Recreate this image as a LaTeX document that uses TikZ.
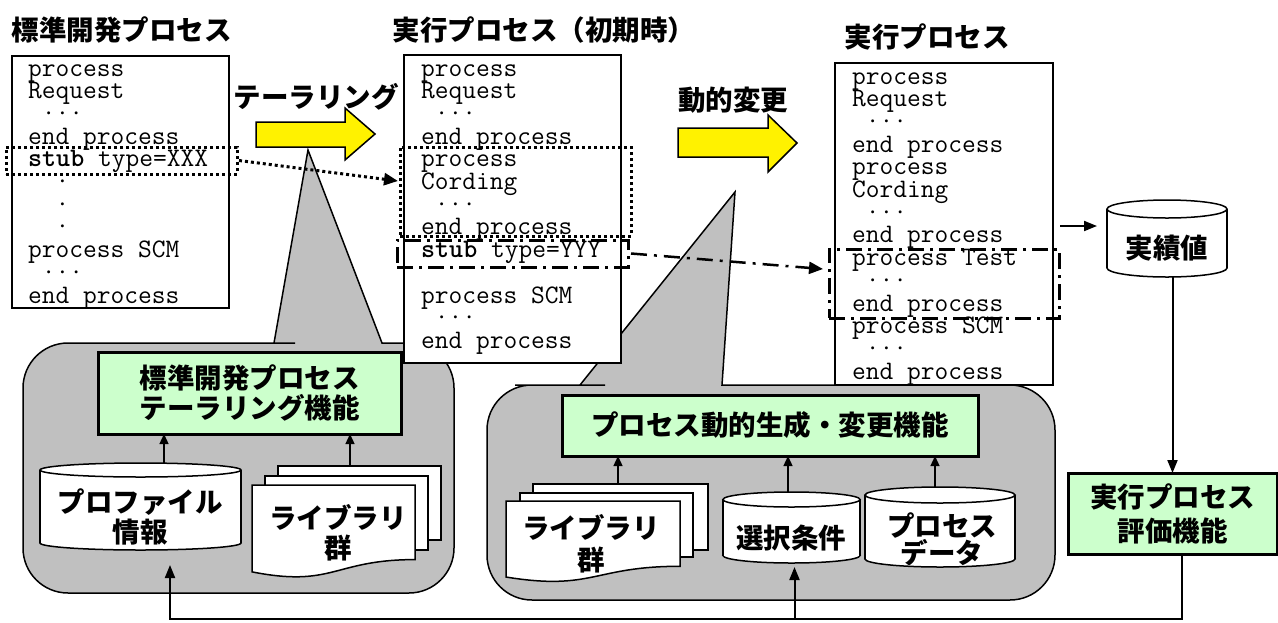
\documentclass[tikz,border=0pt]{standalone}
\usepackage{fontspec}
\newfontfamily\jp{Noto Sans CJK JP}
\usetikzlibrary{arrows.meta,calc}
\definecolor{calloutgray}{RGB}{192,192,192}
\definecolor{boxgreen}{RGB}{204,255,204}
\newcommand\cylbody[3]{%
  \draw[line width=1.5pt,fill=white] ($(#1.south)+(0,-#3)$) ellipse[x radius=#2,y radius=#3];
  \fill[white] ($(#1.north west)+(0,#3)$) rectangle ($(#1.south east)+(0,-#3)$);
  \draw[line width=1.5pt] ($(#1.north west)+(0,#3)$) -- ($(#1.south west)+(0,-#3)$);
  \draw[line width=1.5pt] ($(#1.north east)+(0,#3)$) -- ($(#1.south east)+(0,-#3)$);
  \draw[line width=1.5pt,fill=white] ($(#1.north)+(0,#3)$) ellipse[x radius=#2,y radius=#3];
}
\newcommand\docfront[4]{% L T R H
  \draw[line width=1.5pt,fill=white] (#1,#2) -- (#3,#2) -- (#3,{#2+0.802*#4})
    .. controls ({(#1+#3)/2},{#2+0.802*#4}) and ({(#1+#3)/2},{#2+1.107*#4}) .. (#1,{#2+0.934*#4}) -- cycle;
}
\begin{document}
\begin{tikzpicture}[x=1pt,y=-1pt,
  codebox/.style={draw,line width=2pt,fill=white,inner sep=0pt,outer sep=0pt,anchor=north west},
  code/.style={font=\ttfamily\fontsize{26.7}{26.7}\selectfont,inner sep=0pt,anchor=base west,text height=12pt,text depth=4pt},
  jp/.style={font=\jp\bfseries\fontsize{27.5}{30}\selectfont,inner sep=0pt,align=center},
  callout/.style={draw,line width=1.5pt,fill=calloutgray},
  gbox/.style={draw,line width=3pt,fill=boxgreen,inner sep=0pt,outer sep=0pt,anchor=north west},
  yarrow/.style={draw,line width=1.5pt,fill=yellow},
  cylnode/.style={inner sep=0pt,outer sep=0pt},
  sheet/.style={draw,line width=1.5pt,fill=white,inner sep=0pt,outer sep=0pt,anchor=north west},
  dotframe/.style={draw,line width=3pt,dash pattern=on 3pt off 3pt,inner sep=0pt,outer sep=0pt,anchor=north west},
  ddframe/.style={draw,line width=3pt,dash pattern=on 16pt off 6pt on 3pt off 6pt,inner sep=0pt,outer sep=0pt,anchor=north west},
  thinarr/.style={line width=1.3pt,-{Triangle[length=10pt,width=9pt]}},
  fbarr/.style={line width=2pt,-{Triangle[length=13pt,width=10pt]}},
]
\useasboundingbox (0,0) rectangle (1278,622);
\fill[white] (0,0) rectangle (1278,622);

% callouts
\draw[callout] (274,343) -- (308,150) -- (382,343) -- (400,343) [rounded corners=45] -- (454,343) -- (454,593) -- (23,593) -- (23,343) -- (250,343) [sharp corners] -- cycle;
\draw[callout] (580,385) -- (735,192) -- (722,385) -- (760,385) [rounded corners=45] -- (1055,385) -- (1055,600) -- (487,600) -- (487,385) -- (560,385) [sharp corners] -- cycle;

% code boxes
\node[codebox,minimum width=217,minimum height=252] (lbox) at (12,56) {};
\node[codebox,minimum width=217,minimum height=308] (mbox) at (404,55) {};
\node[codebox,minimum width=218,minimum height=322] (rbox) at (835,63) {};

\foreach \t [count=\i from 0] in {process,Request,{\ ···},end process,{\textbf{stub} type=XXX},{\ \ ·},{\ \ ·},{\ \ ·},process SCM,{\ ···},end process}
  \node[code] (lt\i) at (28,{76+\i*22.7}) {\t};
\foreach \t [count=\i from 0] in {process,Request,{\ ···},end process,process,Cording,{\ ···},end process,{\textbf{stub} type=YYY},{},process SCM,{\ ···},end process}
  \node[code] (mt\i) at (421,{76+\i*22.7}) {\t};
\foreach \t [count=\i from 0] in {process,Request,{\ ···},end process,process,Cording,{\ ···},end process,process Test,{\ ···},end process,process SCM,{\ ···},end process}
  \node[code] (rt\i) at (852,{84+\i*22.7}) {\t};

% frames
\node[dotframe,minimum width=231,minimum height=27] (fx) at (6,147) {};
\node[dotframe,minimum width=231,minimum height=89] (fc) at (400,147) {};
\node[ddframe,minimum width=231,minimum height=27] (fy) at (397,240) {};
\node[ddframe,minimum width=230,minimum height=69] (ft) at (829,249) {};

\coordinate (tipc) at (398,181);
\coordinate (tipt) at (823,269);
\draw[line width=3pt,dash pattern=on 3pt off 3pt,-{Triangle[length=14pt,width=12pt]}] ([xshift=2]fx.east) -- (tipc);
\draw[line width=2.5pt,dash pattern=on 16pt off 7pt on 3pt off 7pt,-{Triangle[length=14pt,width=12pt]}] ([xshift=3]fy.east) -- (tipt);

% yellow arrows
\draw[yarrow] (256,122) -- (345,122) -- (345,108) -- (375,134) -- (345,160) -- (345,147) -- (256,147) -- cycle;
\draw[yarrow] (678,128) -- (768,128) -- (768,115) -- (797,143) -- (768,172) -- (768,157) -- (678,157) -- cycle;

% titles
\node[jp] (t1) at (122,30) {標準開発プロセス};
\node[jp] (t2) at (544,30) {実行プロセス（初期時）};
\node[jp] (t3) at (927,37) {実行プロセス};
\node[jp] (tl) at (316,97) {テーラリング};
\node[jp] (dh) at (733,100) {動的変更};

% left callout content
\node[gbox,jp,minimum width=303,minimum height=82] (gL) at (98,352) {標準開発プロセス\\テーラリング機能};
\node[cylnode,minimum width=201,minimum height=87] (prof) at (140.5,506.5) {};
\cylbody{prof}{100.5}{7}
\node[jp] (proft) at (140,517) {プロファイル\\情報};
\node[sheet,minimum width=163,minimum height=74] (lbs3) at (278,466) {};
\node[sheet,minimum width=163,minimum height=74] (lbs2) at (265,476) {};
\docfront{252}{485}{415}{93}
\node[jp] (lbt) at (338,533) {ライブラリ\\群};
\draw[thinarr] ([xshift=23.5]prof.north) -- ([xshift=23.5]prof.north |- gL.south);
\draw[thinarr] ([xshift=-9.5]lbs3.north) -- ([xshift=-9.5]lbs3.north |- gL.south);

% right callout content
\node[gbox,jp,minimum width=416,minimum height=61] (gR) at (562,395) {プロセス動的生成・変更機能};
\node[sheet,minimum width=175,minimum height=66] (rbs3) at (533,484) {};
\node[sheet,minimum width=173,minimum height=64] (rbs2) at (520,493) {};
\docfront{506}{501}{680}{81.4}
\node[jp,font=\jp\bfseries\fontsize{27.5}{32}\selectfont] (rbt) at (591,544) {ライブラリ\\群};
\node[cylnode,minimum width=137,minimum height=71] (sel) at (791.5,527.5) {};
\cylbody{sel}{68.5}{7.5}
\node[jp] (selt) at (791,538) {選択条件};
\node[cylnode,minimum width=150,minimum height=80] (pdat) at (940,527) {};
\cylbody{pdat}{75}{8}
\node[jp,font=\jp\bfseries\fontsize{27.5}{25}\selectfont] (pdatt) at (942,539.5) {プロセス\\データ};
\draw[thinarr] ([xshift=-2.5]rbs3.north) -- ([xshift=-2.5]rbs3.north |- gR.south);
\draw[thinarr] ([xshift=-3.5]sel.north) -- ([xshift=-3.5]sel.north |- gR.south);
\draw[thinarr] ([xshift=-5]pdat.north) -- ([xshift=-5]pdat.north |- gR.south);

% right side
\node[cylnode,minimum width=120,minimum height=77] (jis) at (1167,238.5) {};
\cylbody{jis}{60}{9}
\node[jp] (jist) at (1167,248) {実績値};
\coordinate (jin) at (1097,226);
\draw[fbarr] ([xshift=7]rbox.east |- jin) -- (jin);
\node[gbox,jp,font=\jp\bfseries\fontsize{27.5}{34}\selectfont,minimum width=209,minimum height=81] (ev) at (1068,473) {実行プロセス\\評価機能};
\draw[fbarr] (ev.north |- jis.south) -- (ev.north);

% feedback
\draw[fbarr] ([xshift=9.5]ev.south) -- ++(0,65) -| ([xshift=29.5,yshift=-15]prof.south);
\coordinate (fbj) at (794.5,619);
\draw[fbarr] (fbj) -- ([yshift=-4]sel.south -| fbj);
\end{tikzpicture}
\end{document}
